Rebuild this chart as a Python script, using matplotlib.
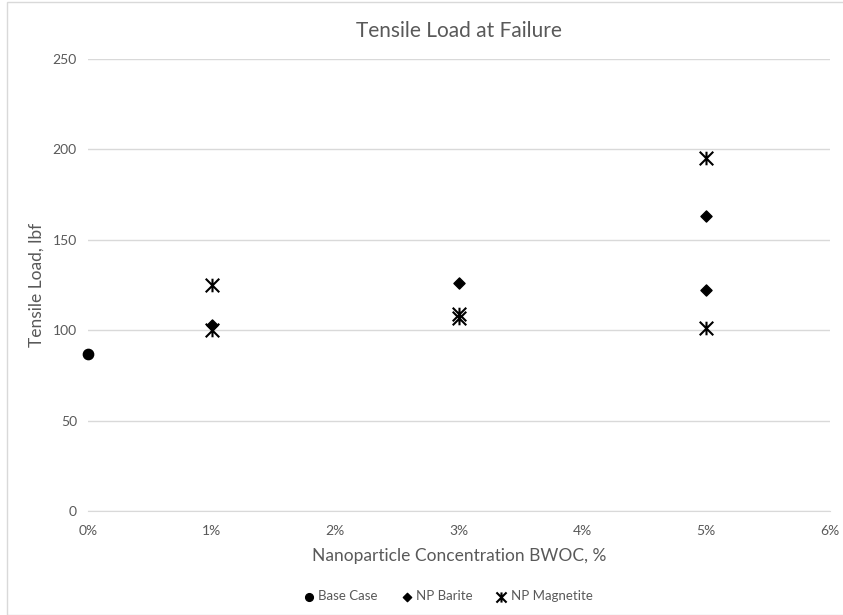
import matplotlib
matplotlib.use("Agg")
import matplotlib.pyplot as plt
from matplotlib.patches import Rectangle
from matplotlib.path import Path

plt.rcParams['font.family'] = ['Lato', 'DejaVu Sans']

# Data: nanoparticle concentration (%) vs tensile load (lbf)
base_x = [0]
base_y = [87]
barite_x = [1, 3, 5, 5]
barite_y = [103, 126, 163, 122]
magnetite_x = [1, 1, 3, 3, 5, 5]
magnetite_y = [125, 100, 107, 109, 195, 101]

x_ticks = [0, 1, 2, 3, 4, 5, 6]
x_tick_labels = ["0%", "1%", "2%", "3%", "4%", "5%", "6%"]
y_ticks = [0, 50, 100, 150, 200, 250]

W, H = 843, 615
fig = plt.figure(figsize=(W / 100, H / 100), dpi=100)
ax = fig.add_axes([88 / W, 1 - 511 / H, (830 - 88) / W, (511 - 59) / H])

text_gray = "#595959"
grid_gray = "#d9d9d9"

# Star marker: an X crossed by a vertical stroke
star = Path(
    [(-1, -1), (1, 1), (-1, 1), (1, -1), (0, -1), (0, 1)],
    [Path.MOVETO, Path.LINETO, Path.MOVETO, Path.LINETO, Path.MOVETO, Path.LINETO],
)

ax.scatter(base_x, base_y, marker="o", s=55, color="black", zorder=3,
           label="Base Case", clip_on=False)
ax.scatter(barite_x, barite_y, marker="D", s=32, color="black", zorder=3, label="NP Barite")
ax.scatter(magnetite_x, magnetite_y, marker=star, s=95, color="black",
           linewidths=1.5, zorder=3, label="NP Magnetite")

ax.set_xlim(0, 6)
ax.set_ylim(0, 250)
ax.set_xticks(x_ticks)
ax.set_xticklabels(x_tick_labels)
ax.set_yticks(y_ticks)
ax.yaxis.grid(True, color=grid_gray, linewidth=1)
ax.set_axisbelow(True)
for side in ["top", "right", "left"]:
    ax.spines[side].set_visible(False)
ax.spines["bottom"].set_color(grid_gray)
ax.tick_params(axis="both", length=0, labelsize=10, labelcolor=text_gray, pad=8)
ax.tick_params(axis="x", pad=10)

ax.set_title("Tensile Load at Failure", fontsize=15, color=text_gray, pad=16)
ax.set_xlabel("Nanoparticle Concentration BWOC, %", fontsize=12.5, color=text_gray, labelpad=8)
ax.set_ylabel("Tensile Load, lbf", fontsize=12.5, color=text_gray, labelpad=6)

leg = fig.legend(loc="center", bbox_to_anchor=(448 / W, 1 - 596 / H), ncol=3,
                 frameon=False, fontsize=9.5, handletextpad=0.3, columnspacing=1.8,
                 handlelength=0.8, markerscale=0.75, labelcolor=text_gray)

# Chart area border
fig.patches.append(Rectangle((7 / W, 0), 1, 1 - 2 / H, transform=fig.transFigure,
                             fill=False, edgecolor=grid_gray, linewidth=1))

fig.savefig("out.png", dpi=100)
